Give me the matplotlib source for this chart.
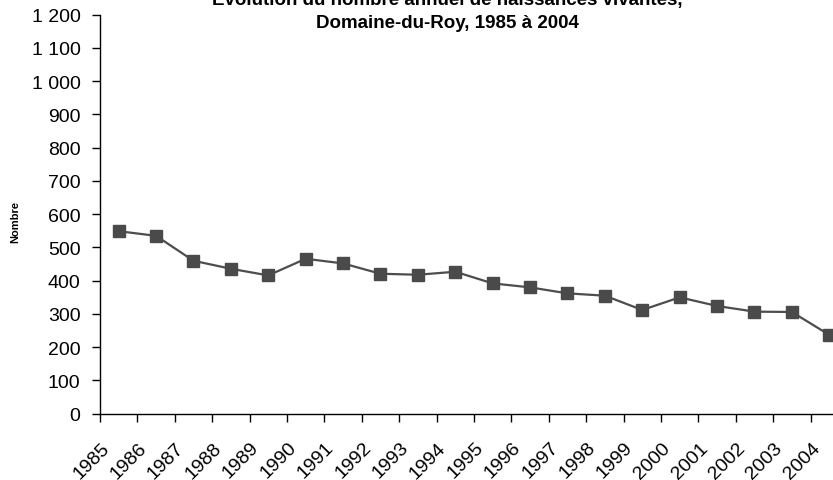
import matplotlib
matplotlib.use("Agg")
import matplotlib.pyplot as plt
import matplotlib.transforms as mtransforms
from matplotlib import ticker

plt.rcParams["font.family"] = ["Liberation Sans", "DejaVu Sans"]

# ---- data ----
years = [str(y) for y in range(1985, 2005)]
births = [549, 535, 460, 436, 416, 466, 452, 421, 418, 427,
          392, 380, 362, 355, 312, 350, 324, 307, 306, 237]
y_ticks = list(range(0, 1300, 100))

title_line1 = "Évolution du nombre annuel de naissances vivantes,"
title_line2 = "Domaine-du-Roy, 1985 à 2004"
y_label = "Nombre"
# --------------

fig = plt.figure(figsize=(8.33, 4.81), dpi=100)
ax = fig.add_axes([0.12, 0.1378, 0.898, 0.8295])

x = list(range(len(years)))
ax.plot(x, births, color="#4d4d4d", lw=1.6, marker="s", ms=8,
        markerfacecolor="#4a4a4a", markeredgecolor="#4a4a4a")

ax.set_xlim(-0.5, len(years) - 0.5)
ax.set_ylim(0, 1200)

for side in ("top", "right"):
    ax.spines[side].set_visible(False)
for side in ("left", "bottom"):
    ax.spines[side].set_linewidth(1.0)
    ax.spines[side].set_color("black")

ax.set_yticks(y_ticks)
ax.yaxis.set_major_formatter(
    ticker.FuncFormatter(lambda v, p: f"{int(v):,}".replace(",", " ")))
ax.tick_params(axis="y", direction="out", length=6, width=1, pad=8,
               labelsize=14, colors="black")

# labels centred in each category, ticks on the boundaries
ax.set_xticks(x)
ax.set_xticklabels(years, rotation=45, ha="right", va="top")
ax.set_xticks([i - 0.5 for i in range(len(years) + 1)], minor=True)
ax.tick_params(axis="x", which="major", length=0, pad=18, labelsize=14)
ax.tick_params(axis="x", which="minor", direction="out", length=6, width=1)
offset = mtransforms.ScaledTranslation(-6 / 100, 0, fig.dpi_scale_trans)
for lbl in ax.get_xticklabels():
    lbl.set_transform(lbl.get_transform() + offset)

fig.text(15 / 833, 1 - 222 / 481, y_label, rotation=90, fontsize=8,
         fontweight="bold", ha="center", va="center")

fig.text(0.5366, 1 - 5 / 481, title_line1, fontsize=13.5, fontweight="bold",
         ha="center", va="baseline")
fig.text(0.5366, 1 - 27.7 / 481, title_line2, fontsize=13.5, fontweight="bold",
         ha="center", va="baseline")

fig.savefig("out.png", dpi=100, facecolor="white")
